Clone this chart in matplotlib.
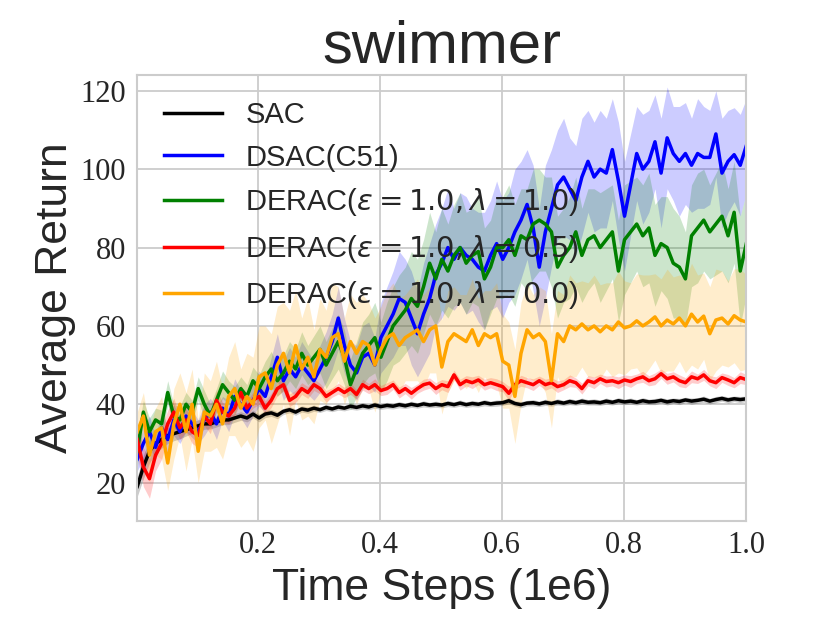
import numpy as np
import matplotlib
matplotlib.use("Agg")
import matplotlib.pyplot as plt

# mean returns, one value per 0.01e6 steps
sac_mean = [19, 24, 28, 30, 31, 32, 32.5, 33, 33.5, 34,
            34.5, 35, 35, 35.5, 36, 36, 36.5, 37, 36.5, 37.5,
            36.5, 37.5, 37.8, 37.2, 38.2, 38.6, 38, 38.8, 38.5, 39,
            38.6, 39.2, 38.8, 39.3, 39, 39.5, 39.2, 39.6, 39.3, 39.8,
            39.4, 39.7, 39.5, 39.9, 39.6, 40, 39.7, 40.1, 39.8, 40,
            39.8, 40.2, 39.9, 40.3, 39.9, 40.2, 40, 40.4, 40.1, 40.3,
            40.4, 40.9, 40.2, 39.9, 40.3, 40.4, 40.1, 40.5, 40.2, 40.6,
            40.3, 40.7, 40.4, 40.8, 40.5, 40.6, 40.4, 40.8, 40.5, 40.9,
            40.6, 40.8, 40.5, 40.9, 40.6, 40.7, 41, 40.6, 40.9, 40.7,
            41.1, 40.8, 41, 41.3, 40.8, 41.2, 41.5, 41.1, 41.4, 41.2, 41.4]
sac_std = [2.5, 3, 3, 2.5, 2.2, 2, 1.8, 1.8, 1.6, 1.5,
           1.5, 1.4, 1.3, 1.3, 1.2, 1.2, 1.1, 1.1, 1, 1,
           1, 0.9, 0.9, 0.9, 0.8, 0.8, 0.8, 0.8, 0.8, 0.8,
           0.7, 0.8, 0.7, 0.8, 0.7, 0.8, 0.7, 0.8, 0.7, 0.8,
           0.7, 0.8, 0.7, 0.8, 0.7, 0.8, 0.7, 0.8, 0.7, 0.8,
           0.7, 0.8, 0.7, 0.8, 0.7, 0.8, 0.7, 0.8, 0.7, 0.8,
           0.7, 0.8, 0.7, 0.8, 0.7, 0.8, 0.7, 0.8, 0.7, 0.8,
           0.7, 0.8, 0.7, 0.8, 0.7, 0.8, 0.7, 0.8, 0.7, 0.8,
           0.7, 0.8, 0.7, 0.8, 0.7, 0.8, 0.7, 0.8, 0.7, 0.8,
           0.7, 0.8, 0.7, 0.8, 0.7, 0.8, 0.7, 0.8, 0.7, 0.8, 0.7]

dsac_mean = [26, 30, 33, 29, 34, 31, 36, 33, 37, 35,
             33, 36, 38, 35, 39, 37, 42, 40, 38, 41,
             44, 42, 47, 52, 46, 49, 47, 50, 48, 46,
             49, 52, 56, 62, 55, 50, 48, 52, 53, 50,
             57, 60, 63, 67, 66, 62, 58, 63, 67, 73,
             76, 80, 77, 80, 78, 77, 75, 74, 78, 81,
             77, 80, 84, 87, 91, 85, 75, 84, 90, 96,
             98, 95, 92, 98, 102, 98, 100, 99, 105, 97,
             88, 96, 104, 100, 102, 107, 99, 108, 104, 102,
             104, 101, 104, 103, 103, 109, 99, 102, 103.7, 101, 106]
dsac_std = [3, 4, 4, 3, 4, 3.5, 4, 3, 4, 3.5,
            3, 4, 3.5, 4, 3, 4, 4.5, 3.5, 4, 4,
            4.5, 4, 5, 6, 5, 5.5, 5, 6, 5.5, 5,
            6, 6.5, 7, 8, 7, 6, 7, 8, 8, 7,
            9, 10, 11, 12, 11, 12, 11, 13, 14, 13,
            14, 15, 13, 14, 15, 13, 14, 15, 14, 16,
            15, 14, 16, 15, 14, 16, 15, 17, 15, 14,
            15, 13, 14, 15, 13, 14, 15, 14, 13, 15,
            14, 13, 12, 14, 13, 12, 14, 13, 12, 14,
            13, 12, 14, 13, 12, 11, 14, 13, 12, 13, 12]

derac10_mean = [28, 38, 33, 36, 35, 43, 37, 36, 40, 38,
                44, 40, 37, 41, 45, 43, 41, 44, 42, 46,
                44, 47, 49, 46, 48, 51, 49, 53, 50, 52,
                54, 50, 53, 56, 52, 45, 49, 53, 55, 57,
                52, 56, 60, 62, 64, 67, 65, 70, 76, 72,
                77, 74, 78, 80, 76, 78, 79, 72, 75, 80,
                80, 82, 78, 83, 82, 86, 87, 86, 84, 75,
                78, 80, 84, 78, 82, 83, 80, 82, 84, 74,
                82, 84, 86, 83, 85, 78, 81, 80, 76, 75,
                72, 83, 85, 87, 84, 86, 88, 83, 89, 74, 81]
derac10_std = [4, 3, 3.5, 3, 3.5, 3, 3, 3.5, 3, 3,
               3, 3.5, 3, 3, 3.5, 3, 3.5, 3, 3, 3.5,
               3.5, 4, 4.5, 4, 4.5, 5, 5, 5.5, 5, 5.5,
               6, 6, 6.5, 7, 7, 6.5, 7, 8, 8, 9,
               9, 10, 10, 11, 11, 12, 12, 12, 13, 12,
               13, 12, 13, 14, 13, 12, 14, 13, 12, 13,
               13, 14, 13, 12, 13, 14, 13, 12, 14, 13,
               12, 13, 14, 12, 13, 12, 14, 13, 12, 13,
               14, 13, 12, 13, 14, 13, 12, 13, 14, 13,
               12, 13, 14, 13, 12, 13, 14, 12, 13, 14, 13]

derac05_mean = [31, 24, 21, 27, 30, 35, 38, 34, 36, 33,
                32, 37, 35, 41, 38, 37, 39, 43, 39, 41,
                42, 39, 41, 44, 45, 41, 42, 44, 43, 45,
                44, 42, 43, 44, 43, 44, 42.5, 45, 44, 45,
                43.5, 44, 45, 43, 44, 42.8, 44, 45, 45.4, 44,
                45, 44.5, 47.5, 45, 46, 45.5, 46.2, 45, 45.5, 45,
                44.5, 42.8, 45, 46, 45.5, 45, 46, 45, 45.5, 44.5,
                45, 46, 45.5, 44, 46, 45.5, 46.5, 45.8, 46, 45.5,
                46.2, 45.8, 46.5, 47, 46, 46.5, 47.8, 46.5, 47, 46,
                45.5, 47, 46.5, 47.5, 46, 45.5, 46.8, 46.2, 45.5, 46.8, 46.3]
derac05_std = [4, 5, 5, 4, 4, 3.5, 3.5, 3, 3, 3,
               3, 2.5, 2.5, 2.5, 2.5, 2, 2, 2, 2, 2,
               2, 1.8, 1.8, 1.8, 1.6, 1.6, 1.6, 1.5, 1.5, 1.5,
               1.3, 1.5, 1.2, 1.4, 1.3, 1.5, 1.2, 1.4, 1.3, 1.5,
               1.3, 1.5, 1.2, 1.4, 1.3, 1.5, 1.2, 1.4, 1.3, 1.5,
               1.3, 1.5, 1.2, 1.4, 1.3, 1.5, 1.2, 1.4, 1.3, 1.5,
               1.3, 1.8, 1.2, 1.4, 1.3, 1.5, 1.2, 1.4, 1.3, 1.5,
               1.3, 1.5, 1.2, 1.4, 1.3, 1.5, 1.2, 1.4, 1.3, 1.5,
               1.3, 1.5, 1.2, 1.4, 1.3, 1.5, 1.2, 1.4, 1.3, 1.5,
               1.3, 1.5, 1.2, 1.4, 1.3, 1.5, 1.2, 1.4, 1.3, 1.5, 1.3]

derac00_mean = [33, 37, 27, 33, 34, 25, 35, 40, 33, 40,
                28, 38, 37, 40, 35, 42, 44, 39, 42, 40,
                47, 48, 44, 50, 53, 48, 55, 49, 52, 47,
                54, 52, 57, 58, 51, 56, 53, 56, 55, 50,
                54, 57, 58, 55, 57, 58, 59, 56, 59, 60,
                49.5, 56, 58, 57, 56, 59, 55, 58, 57, 58,
                51, 50, 42, 53, 59, 57, 58, 56, 46, 58,
                56, 60, 59, 60.5, 59, 60, 58.5, 60, 59, 61,
                59.5, 60, 61.3, 60, 61, 62.3, 60, 61.5, 60.5, 62,
                60, 63, 61, 62.5, 58, 61.5, 62, 60.5, 62.6, 61.5, 61]
derac00_std = [5, 6, 7, 6, 8, 7, 9, 8, 10, 9,
               8, 10, 9, 11, 9, 10, 12, 10, 11, 12,
               13, 12, 14, 15, 13, 16, 14, 13, 15, 12,
               13, 12, 14, 12, 11, 12, 13, 12, 11, 12,
               11, 12, 13, 12, 11, 12, 13, 12, 11, 12,
               12, 13, 12, 11, 12, 13, 12, 11, 12, 13,
               12, 11, 12, 13, 12, 11, 12, 13, 12, 11,
               12, 13, 12, 11, 12, 13, 12, 11, 12, 13,
               12, 11, 12, 13, 12, 11, 12, 13, 12, 11,
               12, 13, 12, 11, 12, 13, 12, 11, 12, 13, 12]

labels = ['SAC', 'DSAC(C51)',
          r'DERAC($\varepsilon = 1.0, \lambda = 1.0$)',
          r'DERAC($\varepsilon = 1.0, \lambda = 0.5$)',
          r'DERAC($\varepsilon = 1.0, \lambda = 0.0$)']
colors = ['black', 'blue', 'green', 'red', 'orange']
means = [sac_mean, dsac_mean, derac10_mean, derac05_mean, derac00_mean]
stds = [sac_std, dsac_std, derac10_std, derac05_std, derac00_std]

plt.rcParams['font.family'] = 'Liberation Sans'
plt.rcParams['text.color'] = '#262626'
plt.rcParams['axes.labelcolor'] = '#262626'

fig = plt.figure(figsize=(8.3, 6.23), dpi=100)
ax = fig.add_axes([0.1654, 0.1637, 0.7338, 0.7163])

steps = np.linspace(0.003, 1.0, len(sac_mean))
for mean, std, color, label in zip(means, stds, colors, labels):
    mean = np.array(mean)
    std = np.array(std)
    ax.plot(steps, mean, color=color, linewidth=2.5, label=label)
    ax.fill_between(steps, mean - std, mean + std, color=color, alpha=0.2, linewidth=0)

ax.set_xlim(0.003, 1.0)
ax.set_ylim(10.2, 124.1)
ax.set_xticks([0.2, 0.4, 0.6, 0.8, 1.0])
ax.set_yticks([20, 40, 60, 80, 100, 120])
ax.grid(True, color='#cccccc', linewidth=1.3)
ax.set_axisbelow(True)
for spine in ax.spines.values():
    spine.set_color('#cccccc')
    spine.set_linewidth(1.5)
ax.tick_params(axis='both', length=0, labelsize=22, labelcolor='#262626',
               labelfontfamily='Liberation Serif')
ax.tick_params(axis='x', pad=7)
ax.tick_params(axis='y', pad=8)

ax.set_title('swimmer', fontsize=43, pad=8)
ax.set_xlabel('Time Steps (1e6)', fontsize=32, labelpad=6)
ax.set_ylabel('Average Return', fontsize=32, labelpad=3)
ax.legend(loc='upper left', frameon=False, fontsize=21)

fig.savefig('out.png', dpi=100)
